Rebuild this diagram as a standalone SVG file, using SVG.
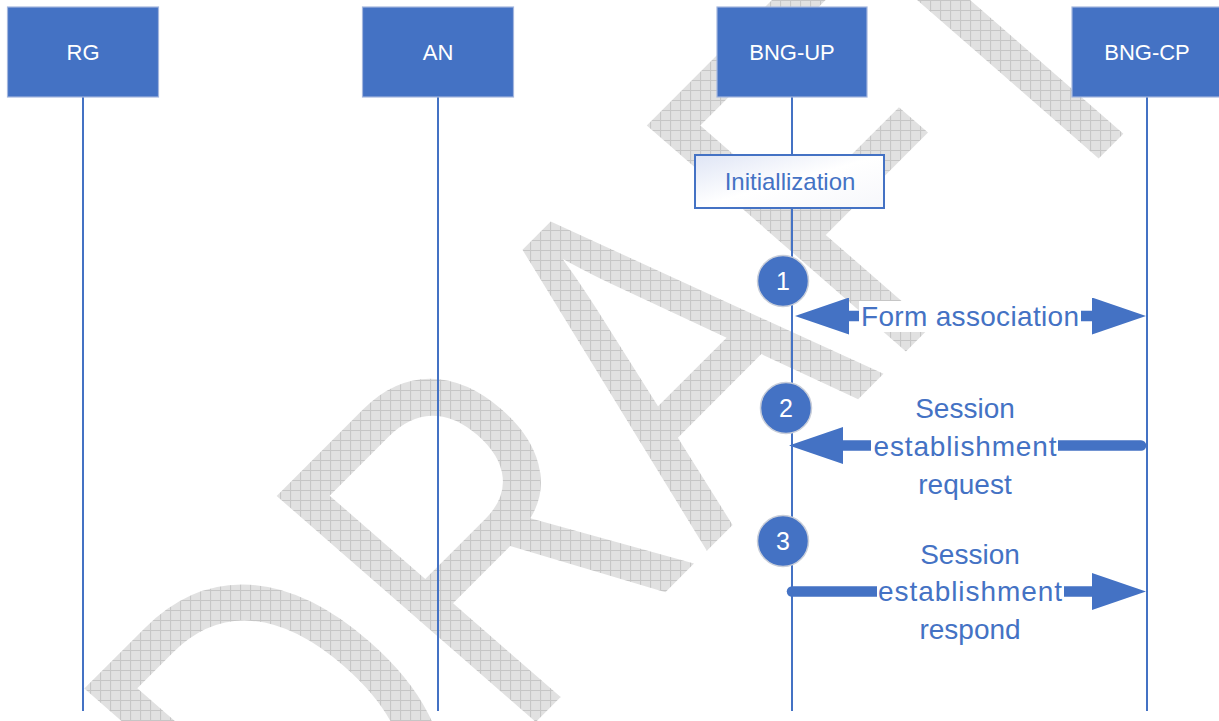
<svg xmlns="http://www.w3.org/2000/svg" width="1219" height="721" viewBox="0 0 1219 721">
  <style>
    .box { fill: #4472C4; stroke: #a3b6de; stroke-width: 1.2; }
    .title { fill: #ffffff; font-family: "Liberation Sans", Arial, sans-serif; font-size: 22px; text-anchor: middle; }
    .life { stroke: #4472C4; stroke-width: 2; }
    .badge circle { fill: #4472C4; stroke: #c9ced9; stroke-width: 1.5; }
    .badge text { fill: #ffffff; font-family: "Liberation Sans", Arial, sans-serif; font-size: 25px; text-anchor: middle; }
    .msg { stroke: #4472C4; stroke-width: 10.5; fill: none; }
    .label { fill: #4472C4; font-family: "Liberation Sans", Arial, sans-serif; font-size: 28px; text-anchor: middle; }
    .label-bg { fill: #ffffff; }
    .step { fill: #4472C4; font-family: "Liberation Sans", Arial, sans-serif; font-size: 24px; text-anchor: middle; }
  </style>
  <defs>
    <!-- light gray grid used to fill the watermark, kept axis-aligned on the page -->
    <pattern id="grid" patternUnits="userSpaceOnUse" width="10" height="10"
             patternTransform="matrix(0.63767 0.51793 -0.73119 0.51722 479.69 -650.95)">
      <rect width="10" height="10" fill="#e1e1e1"/>
      <path d="M0 0.5 H10 M0.5 0 V10" stroke="#c6c6c6" stroke-width="1"/>
    </pattern>
    <linearGradient id="initFill" x1="0" y1="0" x2="1" y2="1">
      <stop offset="0" stop-color="#dfe5f5"/>
      <stop offset="0.5" stop-color="#ffffff"/>
      <stop offset="1" stop-color="#f6f7fb"/>
    </linearGradient>
    <marker id="head" markerUnits="userSpaceOnUse" viewBox="0 0 54 37" markerWidth="54" markerHeight="37"
            refX="0" refY="18.5" orient="auto-start-reverse">
      <path d="M0 0 L54 18.5 L0 37 Z" fill="#4472C4"/>
    </marker>
  </defs>

  <!-- watermark -->
  <g id="watermark">
    <text transform="matrix(0.730 -0.731 1.032 0.900 321.6 936.5)" x="0 263.5 527 770.5 970" y="0"
          font-family="'Liberation Sans', Arial, sans-serif" font-size="365" fill="url(#grid)">DRAFT</text>
  </g>

  <!-- lifelines -->
  <g id="lifelines">
    <line class="life" x1="83" y1="97" x2="83" y2="711"/>
    <line class="life" x1="438" y1="97" x2="438" y2="711"/>
    <line class="life" x1="792" y1="97" x2="792" y2="711"/>
    <line class="life" x1="1147" y1="97" x2="1147" y2="711"/>
  </g>

  <!-- participants -->
  <g id="rg" class="node">
    <rect class="box" x="7.5" y="7" width="151" height="90"/>
    <text class="title" x="83" y="60">RG</text>
  </g>
  <g id="an" class="node">
    <rect class="box" x="362.5" y="7" width="151" height="90"/>
    <text class="title" x="438" y="60">AN</text>
  </g>
  <g id="bng-up" class="node">
    <rect class="box" x="717" y="7" width="150" height="90"/>
    <text class="title" x="792" y="60">BNG-UP</text>
  </g>
  <g id="bng-cp" class="node">
    <rect class="box" x="1072" y="7" width="152" height="90"/>
    <text class="title" x="1147" y="60">BNG-CP</text>
  </g>

  <!-- local step on BNG-UP -->
  <g id="initialization" class="node">
    <rect x="695" y="155" width="189" height="53" fill="url(#initFill)" stroke="#4472C4" stroke-width="2"/>
    <text class="step" x="790" y="190">Initiallization</text>
  </g>

  <!-- messages -->
  <g id="connectors">
    <line class="msg" x1="849" y1="316" x2="1092" y2="316" marker-start="url(#head)" marker-end="url(#head)"/>
    <line class="msg" x1="1141" y1="445.5" x2="843" y2="445.5" stroke-linecap="round" marker-end="url(#head)"/>
    <line class="msg" x1="792" y1="591.5" x2="1092" y2="591.5" stroke-linecap="round" marker-end="url(#head)"/>
  </g>

  <!-- message labels -->
  <g id="label-form-association">
    <rect class="label-bg" x="859" y="301" width="222" height="31"/>
    <text class="label" x="970" y="326" textLength="218">Form association</text>
  </g>
  <g id="label-session-request">
    <rect class="label-bg" x="871" y="393" width="187" height="108"/>
    <text class="label" x="965" y="418">Session</text>
    <text class="label" x="965" y="456" textLength="183">establishment</text>
    <text class="label" x="965" y="494">request</text>
  </g>
  <g id="label-session-respond">
    <rect class="label-bg" x="877" y="539" width="187" height="108"/>
    <text class="label" x="970" y="564">Session</text>
    <text class="label" x="970" y="601" textLength="184">establishment</text>
    <text class="label" x="970" y="639">respond</text>
  </g>

  <!-- numbered markers on BNG-UP -->
  <g id="badge-1" class="badge">
    <circle cx="783" cy="281" r="25.5"/>
    <text x="783" y="290">1</text>
  </g>
  <g id="badge-2" class="badge">
    <circle cx="786" cy="408" r="25.5"/>
    <text x="786" y="417">2</text>
  </g>
  <g id="badge-3" class="badge">
    <circle cx="783" cy="541" r="25.5"/>
    <text x="783" y="550">3</text>
  </g>
</svg>
